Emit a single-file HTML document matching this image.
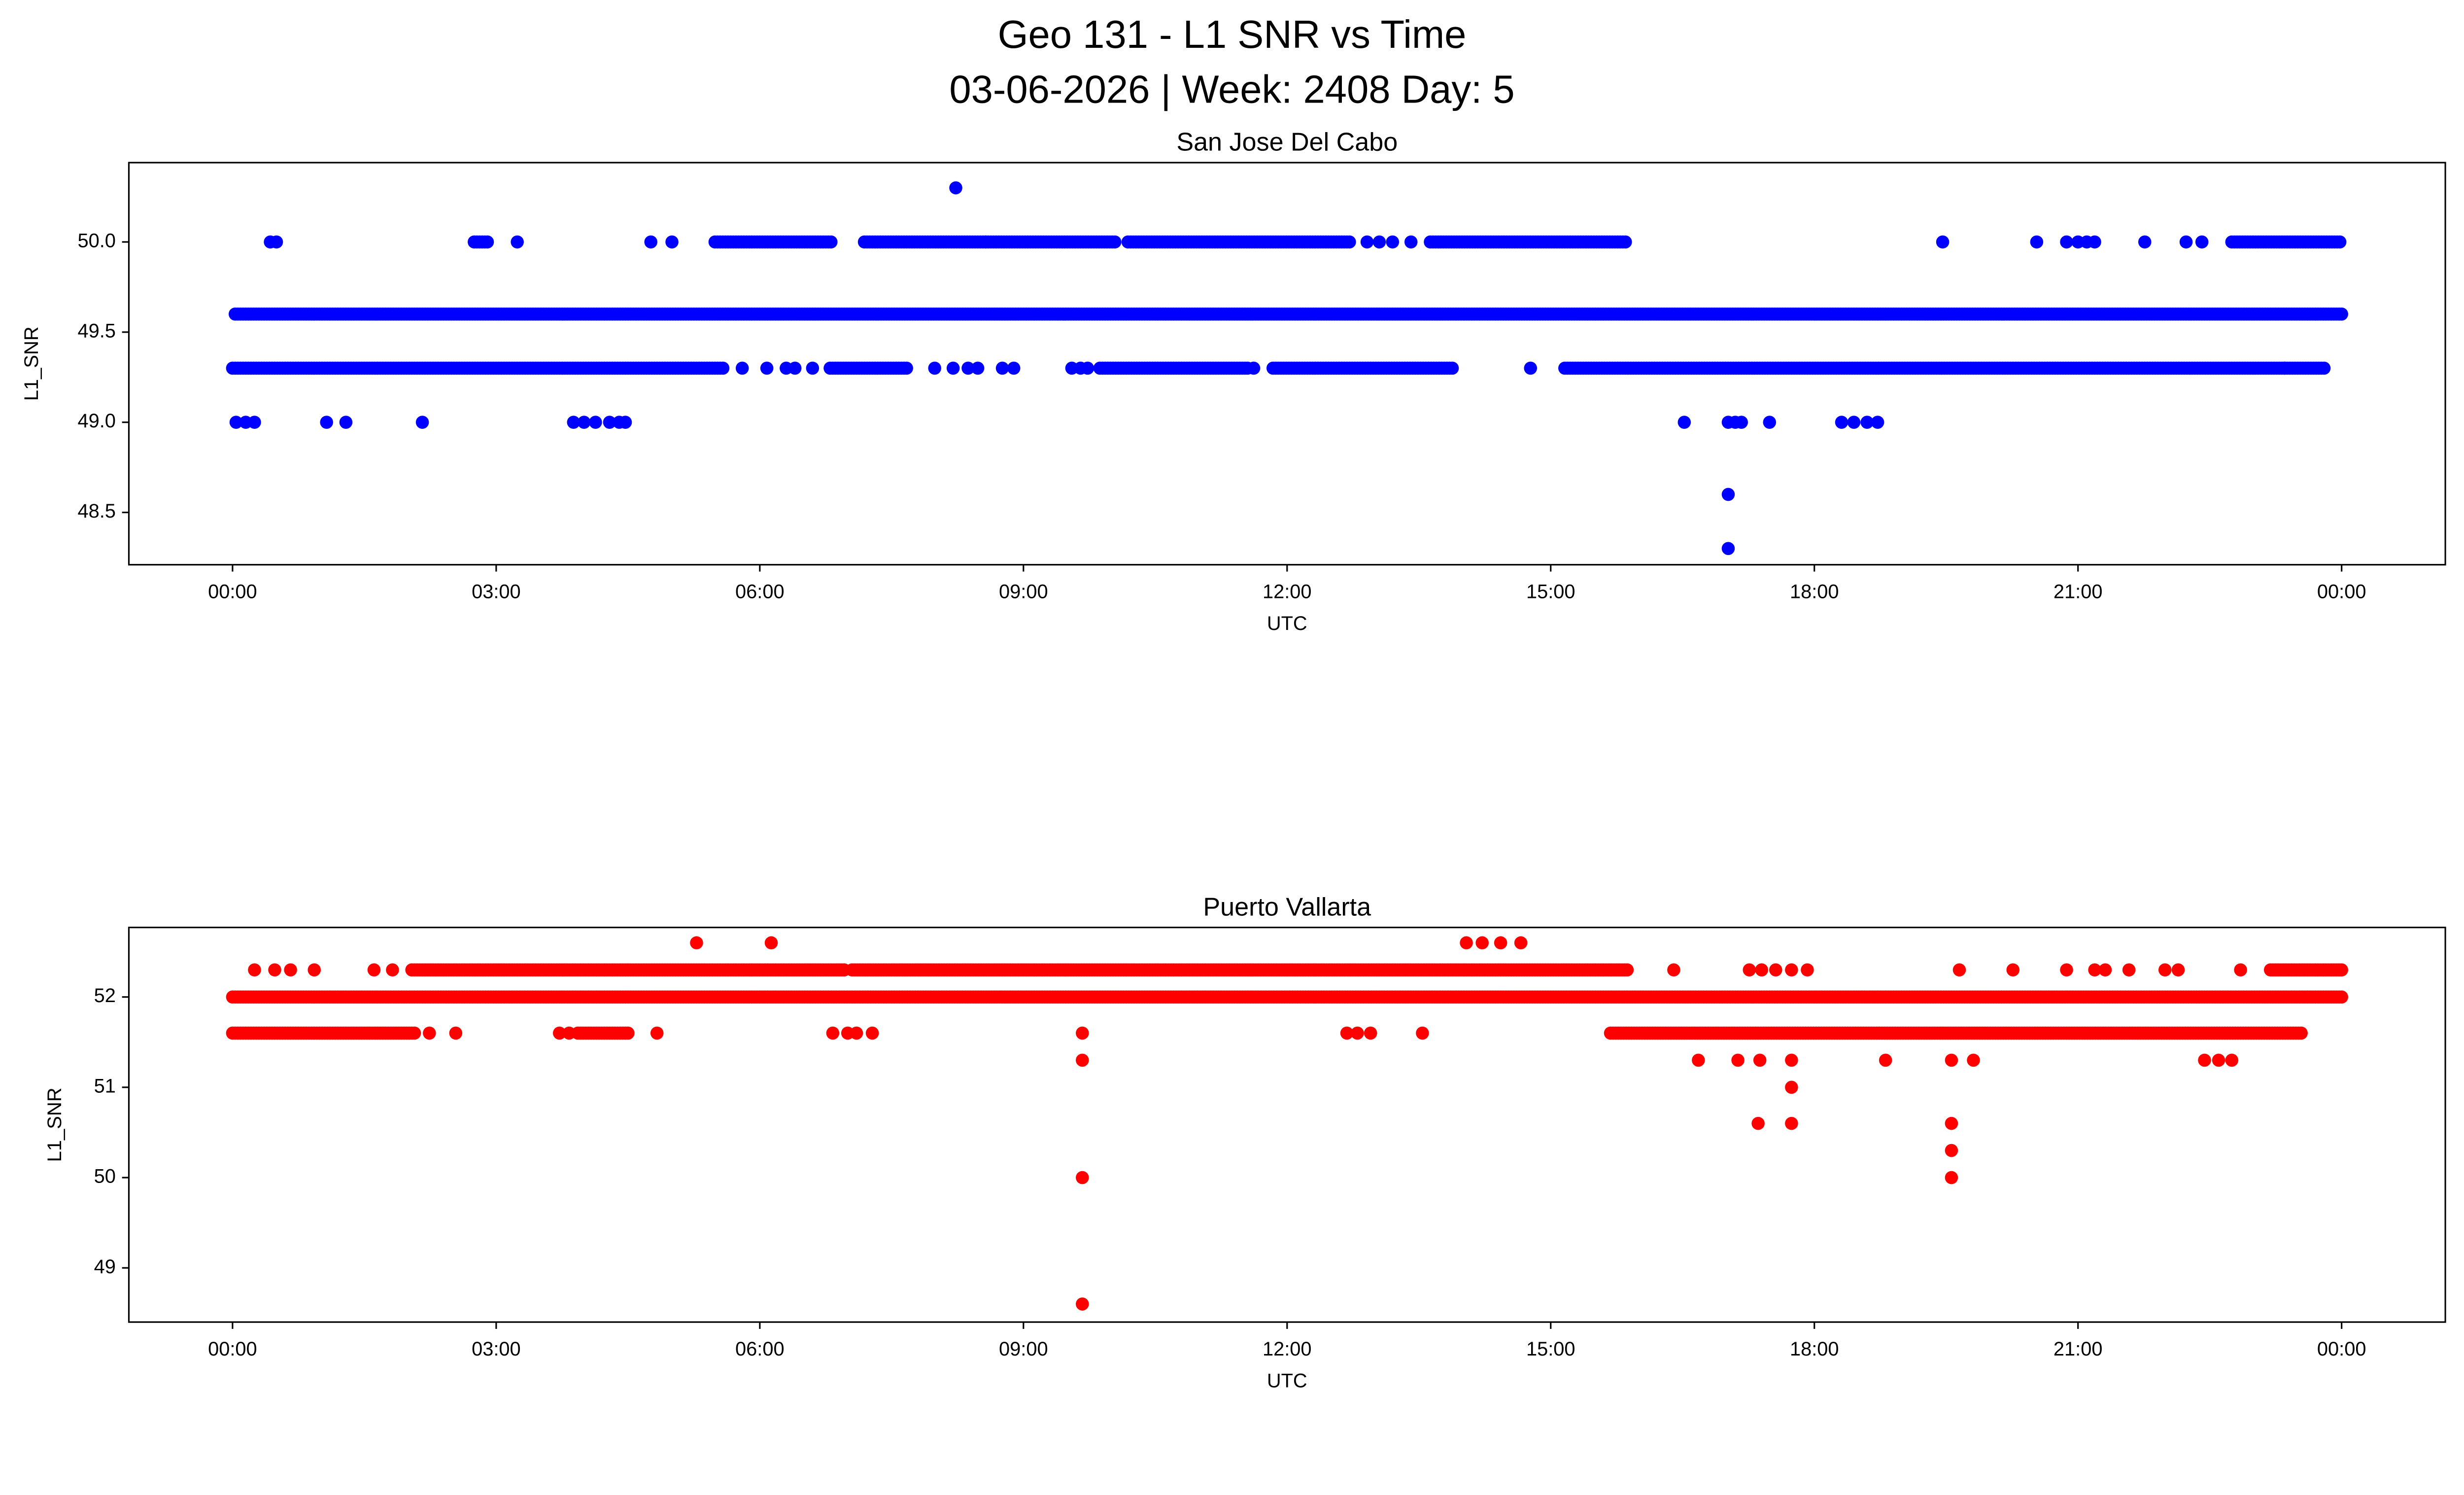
<!DOCTYPE html>
<html><head><meta charset="utf-8"><style>
html,body{margin:0;padding:0;background:#fff;overflow:hidden;width:100%;height:100%;}
svg{display:block;width:100vw;height:100vh;font-family:"Liberation Sans","DejaVu Sans",sans-serif;}
</style></head><body>
<svg id="fig" viewBox="0 0 5278 3190" preserveAspectRatio="none" xmlns="http://www.w3.org/2000/svg">
<rect width="5278" height="3190" fill="#fff"/>
<text x="2639" y="80" font-size="84" text-anchor="middle" dominant-baseline="middle">Geo 131 - L1 SNR vs Time</text>
<text x="2639" y="197" font-size="84" text-anchor="middle" dominant-baseline="middle">03-06-2026 | Week: 2408 Day: 5</text>
<g id="p1"></g>
<g id="p2"></g>
</svg>
<script>
// ---- Panel 1 data (San Jose Del Cabo), times in hours UTC ----
const sjRunStart = [0.03, 0.0, 15.16, 5.49, 7.19, 8.57, 10.19, 13.63, 22.75, 9.87, 11.84, 6.8, 2.75];
const sjRunEnd   = [24.0, 5.58, 23.82, 6.83, 8.57, 10.05, 12.73, 15.86, 24.0, 11.57, 13.9, 7.69, 2.9];
const sjRunValue = [49.6, 49.3, 49.3, 50.0, 50.0, 50.0, 50.0, 50.0, 50.0, 49.3, 49.3, 49.3, 50.0];
const sjPtTime  = [0.43,0.5,3.24,4.76,5.0,12.91,13.05,13.2,13.41,19.46,20.53,20.87,21.0,21.1,21.19,21.76,22.23,22.41,
  5.8,6.08,6.3,6.4,6.6,7.99,8.2,8.37,8.48,8.76,8.89,9.55,9.65,9.73,11.62,14.77,23.35,
  0.04,0.15,0.25,1.07,1.29,2.16,3.88,4.0,4.13,4.29,4.4,4.47,16.52,17.02,17.1,17.17,17.49,18.31,18.45,18.6,18.72,
  17.02,17.02,8.23];
const sjPtValue = [50,50,50,50,50,50,50,50,50,50,50,50,50,50,50,50,50,50,
  49.3,49.3,49.3,49.3,49.3,49.3,49.3,49.3,49.3,49.3,49.3,49.3,49.3,49.3,49.3,49.3,49.3,
  49,49,49,49,49,49,49,49,49,49,49,49,49,49,49,49,49,49,49,49,49,
  48.6,48.3,50.3];
const sjTicks = [48.5, 49.0, 49.5, 50.0];
const sjTickLabels = ["48.5","49.0","49.5","50.0"];

// ---- Panel 2 data (Puerto Vallarta) ----
const pvRunStart = [0.0, 2.04, 7.05, 0.0, 15.68, 23.19, 3.93];
const pvRunEnd   = [24.0, 6.97, 15.88, 2.09, 23.55, 24.0, 4.5];
const pvRunValue = [52.0, 52.3, 52.3, 51.6, 51.6, 52.3, 51.6];
const pvPtTime  = [0.25,0.48,0.66,0.93,1.61,1.82,16.4,17.26,17.4,17.56,17.74,17.92,19.65,20.26,20.87,21.19,21.31,21.58,21.99,22.14,22.85,
  5.28,6.13,14.04,14.22,14.43,14.66,
  2.24,2.54,3.72,3.83,4.83,6.83,7.0,7.1,7.28,9.67,12.68,12.8,12.95,13.54,
  9.67,16.68,17.13,17.38,17.74,18.81,19.56,19.81,22.44,22.6,22.75,
  17.74,17.36,17.74,19.56,19.56,9.67,19.56,9.67];
const pvPtValue = [52.3,52.3,52.3,52.3,52.3,52.3,52.3,52.3,52.3,52.3,52.3,52.3,52.3,52.3,52.3,52.3,52.3,52.3,52.3,52.3,52.3,
  52.6,52.6,52.6,52.6,52.6,52.6,
  51.6,51.6,51.6,51.6,51.6,51.6,51.6,51.6,51.6,51.6,51.6,51.6,51.6,51.6,
  51.3,51.3,51.3,51.3,51.3,51.3,51.3,51.3,51.3,51.3,51.3,
  51.0,50.6,50.6,50.6,50.3,50.0,50.0,48.6];
const pvTicks = [49, 50, 51, 52];
const pvTickLabels = ["49","50","51","52"];

const xTicks = [0,3,6,9,12,15,18,21,24];
const xTickLabels = ["00:00","03:00","06:00","09:00","12:00","15:00","18:00","21:00","00:00"];

const NS = "http://www.w3.org/2000/svg";
function mk(tag, attrs, parent){const e=document.createElementNS(NS,tag);for(const k in attrs)e.setAttribute(k,attrs[k]);parent.appendChild(e);return e;}

function panel(g, cfg){
  const L=276,R=5238,T=cfg.top,B=cfg.bottom;
  const xMin=-1.18,xMax=25.18;
  const sx=h=>L+(h-xMin)/(xMax-xMin)*(R-L);
  const sy=v=>B-(v-cfg.yMin)/(cfg.yMax-cfg.yMin)*(B-T);
  const marks=mk('g',{},g);
  
  
  for(let i=0;i<cfg.runStart.length;i++){
    for(let h=cfg.runStart[i];h<=cfg.runEnd[i]+1e-9;h+=0.03){
      const c=mk('circle',{cx:sx(h),cy:sy(cfg.runValue[i]),r:14,fill:cfg.color},marks);
      
      
    }
  }
  for(let i=0;i<cfg.ptTime.length;i++){
    const c=mk('circle',{cx:sx(cfg.ptTime[i]),cy:sy(cfg.ptValue[i]),r:14,fill:cfg.color},marks);
    
    
  }
  const frame=mk('rect',{x:L,y:T,width:R-L,height:B-T,fill:'none',stroke:'#000','stroke-width':3.3},g);
  
  
  xTicks.forEach((t,i)=>{
    const x=sx(t);
    const tk=mk('line',{x1:x,x2:x,y1:B,y2:B+14.6,stroke:'#000','stroke-width':3.3},g);
    
    
    const tl=mk('text',{x:x,y:B+60,'font-size':42,'text-anchor':'middle','dominant-baseline':'middle'},g);
    tl.textContent=xTickLabels[i];
    
    
  });
  cfg.ticks.forEach((t,i)=>{
    const y=sy(t);
    const tk=mk('line',{x1:L-14.6,x2:L,y1:y,y2:y,stroke:'#000','stroke-width':3.3},g);
    
    
    const tl=mk('text',{x:L-28,y:y,'font-size':42,'text-anchor':'end','dominant-baseline':'middle'},g);
    tl.textContent=cfg.tickLabels[i];
    
    
  });
  const xl=mk('text',{x:(L+R)/2,y:B+128,'font-size':42,'text-anchor':'middle','dominant-baseline':'middle'},g);
  xl.textContent='UTC';
  
  
  const yl=mk('text',{x:0,y:0,'font-size':42,'text-anchor':'middle','dominant-baseline':'middle',transform:`translate(${cfg.ylx},${(T+B)/2}) rotate(-90)`},g);
  yl.textContent='L1_SNR';
  
  
  const st=mk('text',{x:(L+R)/2,y:T-40,'font-size':55,'text-anchor':'middle','dominant-baseline':'middle'},g);
  st.textContent=cfg.title;
  
  
}

panel(document.getElementById('p1'),{name:'san-jose',top:347,bottom:1205,yMin:48.21,yMax:50.44,color:'#0000ff',
  runStart:sjRunStart,runEnd:sjRunEnd,runValue:sjRunValue,ptTime:sjPtTime,ptValue:sjPtValue,
  ticks:sjTicks,tickLabels:sjTickLabels,title:'San Jose Del Cabo',ylx:70});
panel(document.getElementById('p2'),{name:'puerto-vallarta',top:1979,bottom:2821,yMin:48.40,yMax:52.77,color:'#ff0000',
  runStart:pvRunStart,runEnd:pvRunEnd,runValue:pvRunValue,ptTime:pvPtTime,ptValue:pvPtValue,
  ticks:pvTicks,tickLabels:pvTickLabels,title:'Puerto Vallarta',ylx:120});
</script>
</body></html>
